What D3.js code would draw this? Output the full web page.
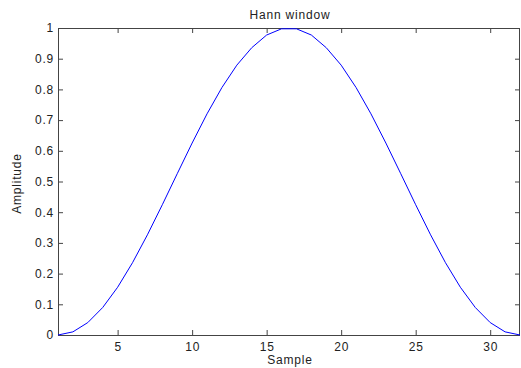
<!DOCTYPE html>
<html>
<head>
<meta charset="utf-8">
<script src="https://cdn.jsdelivr.net/npm/d3@7"></script>
<style>
  body { margin: 0; background: #fff; }
  text { font-family: Arial, "Liberation Sans", sans-serif; fill: #222; letter-spacing: 0.8px; }
</style>
</head>
<body>
<div id="chart"></div>
<script>
// samples and amplitudes of the 32-point window
const samples = [1,2,3,4,5,6,7,8,9,10,11,12,13,14,15,16,17,18,19,20,21,22,23,24,25,26,27,28,29,30,31,32];
const amplitude = [0, 0.0102, 0.0405, 0.0896, 0.1555, 0.2355, 0.3263, 0.4243,
                   0.5253, 0.6253, 0.7204, 0.8061, 0.8790, 0.9358, 0.9771, 0.9974,
                   0.9974, 0.9771, 0.9358, 0.8790, 0.8061, 0.7204, 0.6253, 0.5253,
                   0.4243, 0.3263, 0.2355, 0.1555, 0.0896, 0.0405, 0.0102, 0];
const xTicks = [5, 10, 15, 20, 25, 30];
const yTicks = [0, 0.1, 0.2, 0.3, 0.4, 0.5, 0.6, 0.7, 0.8, 0.9, 1];

const width = 521, height = 368;
const margin = {top: 28, right: 1, bottom: 33, left: 58};
const fontSize = "12px";

const svg = d3.select("#chart")
  .append("svg")
    .attr("width", width)
    .attr("height", height);

const x = d3.scaleLinear()
  .domain([1, 32])
  .range([margin.left, width - margin.right]);
const y = d3.scaleLinear()
  .domain([0, 1])
  .range([height - margin.bottom, margin.top]);

// axes, ticks pointing inward like matlab
const axisColor = "#444";
function styleAxis(g) {
  g.select(".domain").remove();
  g.selectAll(".tick line").attr("stroke", axisColor);
  g.selectAll(".tick text").style("font-size", fontSize).attr("fill", "#222");
}

svg.append("g")
  .attr("transform", `translate(0,${y(0)})`)
  .call(d3.axisBottom(x).tickValues(xTicks).tickSizeInner(-5).tickPadding(7).tickFormat(d3.format("d")))
  .call(styleAxis);

svg.append("g")
  .attr("transform", `translate(0,${y(1)})`)
  .call(d3.axisTop(x).tickValues(xTicks).tickSizeInner(-5).tickFormat(""))
  .call(styleAxis);

svg.append("g")
  .attr("transform", `translate(${x(1)},0)`)
  .call(d3.axisLeft(y).tickValues(yTicks).tickSizeInner(-5).tickPadding(4).tickFormat(d => d === 0 || d === 1 ? d : d3.format(".1f")(d)))
  .call(styleAxis);

svg.append("g")
  .attr("transform", `translate(${x(32)},0)`)
  .call(d3.axisRight(y).tickValues(yTicks).tickSizeInner(-5).tickFormat(""))
  .call(styleAxis);

// box
svg.append("rect")
  .attr("x", x(1) + 0.5)
  .attr("y", y(1) + 0.5)
  .attr("width", x(32) - x(1) - 1)
  .attr("height", y(0) - y(1))
  .attr("fill", "none")
  .attr("stroke", axisColor);

// the curve
const line = d3.line()
  .x((d, i) => x(samples[i]))
  .y(d => y(d));

svg.append("path")
  .datum(amplitude)
  .attr("d", line)
  .attr("fill", "none")
  .attr("stroke", "#0000ff")
  .attr("stroke-width", 1);

// labels
svg.append("text")
  .attr("x", (x(1) + x(32)) / 2 + 1)
  .attr("y", 19)
  .attr("text-anchor", "middle")
  .style("font-size", fontSize)
  .text("Hann window");

svg.append("text")
  .attr("x", (x(1) + x(32)) / 2 + 1)
  .attr("y", 364)
  .attr("text-anchor", "middle")
  .style("font-size", fontSize)
  .text("Sample");

svg.append("text")
  .attr("transform", `translate(21,${(y(0) + y(1)) / 2 + 2}) rotate(-90)`)
  .attr("text-anchor", "middle")
  .style("font-size", fontSize)
  .text("Amplitude");
</script>
</body>
</html>
